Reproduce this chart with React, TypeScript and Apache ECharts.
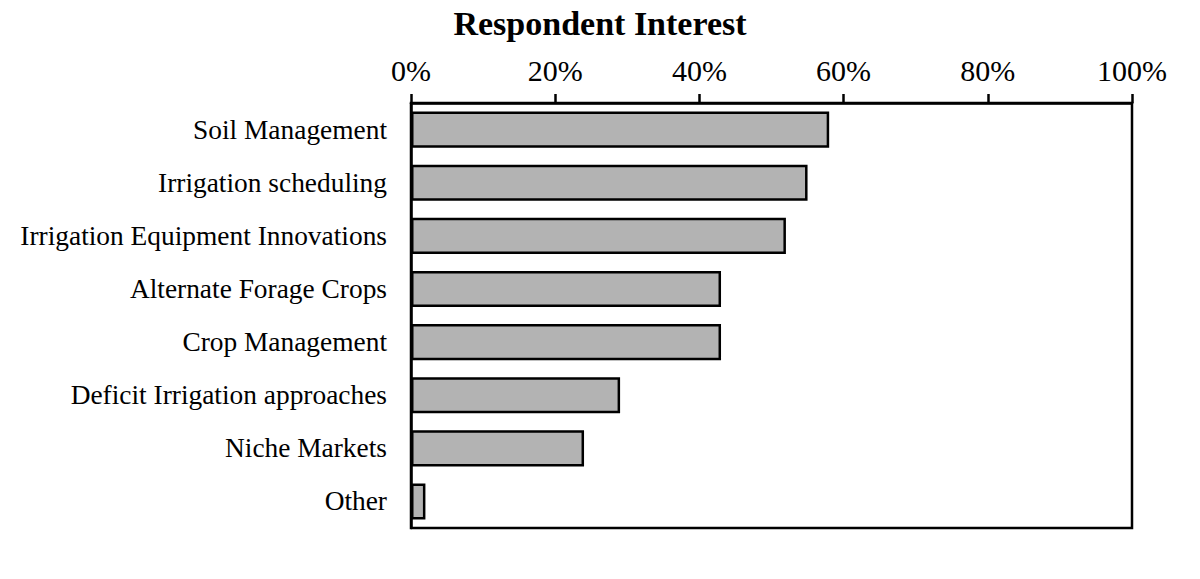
import React, { useEffect, useRef } from "react";
import * as echarts from "echarts";

const categories = [
  "Soil Management",
  "Irrigation scheduling",
  "Irrigation Equipment Innovations",
  "Alternate Forage Crops",
  "Crop Management",
  "Deficit Irrigation approaches",
  "Niche Markets",
  "Other",
];
const values = [58, 55, 52, 43, 43, 29, 24, 2];
const tickMin = 0;
const tickMax = 100;
const tickStep = 20;
const titleText = "Respondent Interest";

export default function App() {
  const ref = useRef<HTMLDivElement>(null);
  useEffect(() => {
    if (!ref.current) return;
    const chart = echarts.init(ref.current, undefined, { renderer: "svg" });
    const font = "'Liberation Serif', 'Times New Roman', serif";
    chart.setOption({
      animation: false,
      backgroundColor: "#ffffff",
      title: {
        text: titleText,
        left: "center",
        top: 1,
        textStyle: { fontFamily: font, fontSize: 34, fontWeight: "bold", color: "#000" },
      },
      grid: {
        left: 411,
        right: 68,
        top: 103,
        bottom: 51,
        show: true,
        borderColor: "#000",
        borderWidth: 2.5,
        backgroundColor: "transparent",
      },
      xAxis: {
        type: "value",
        position: "top",
        min: tickMin,
        max: tickMax,
        interval: tickStep,
        axisLine: { show: true, lineStyle: { color: "#000", width: 2.5 } },
        axisTick: { show: true, inside: false, length: 9, lineStyle: { color: "#000", width: 2.5 } },
        splitLine: { show: false },
        axisLabel: {
          formatter: "{value}%",
          fontFamily: font,
          fontSize: 30,
          color: "#000",
          margin: 18,
        },
      },
      yAxis: {
        type: "category",
        data: categories,
        inverse: true,
        axisLine: { show: true, lineStyle: { color: "#000", width: 2.5 } },
        axisTick: { show: false },
        axisLabel: {
          fontFamily: font,
          fontSize: 27.4,
          color: "#000",
          margin: 24,
        },
      },
      series: [
        {
          type: "bar",
          data: values,
          barCategoryGap: "32%",
          itemStyle: { color: "#b3b3b3", borderColor: "#000", borderWidth: 2.5 },
        },
      ],
    });
    return () => chart.dispose();
  }, []);
  return (
    <div
      ref={ref}
      style={{ position: "fixed", left: 0, top: 0, width: 1200, height: 579, background: "#fff" }}
    />
  );
}
